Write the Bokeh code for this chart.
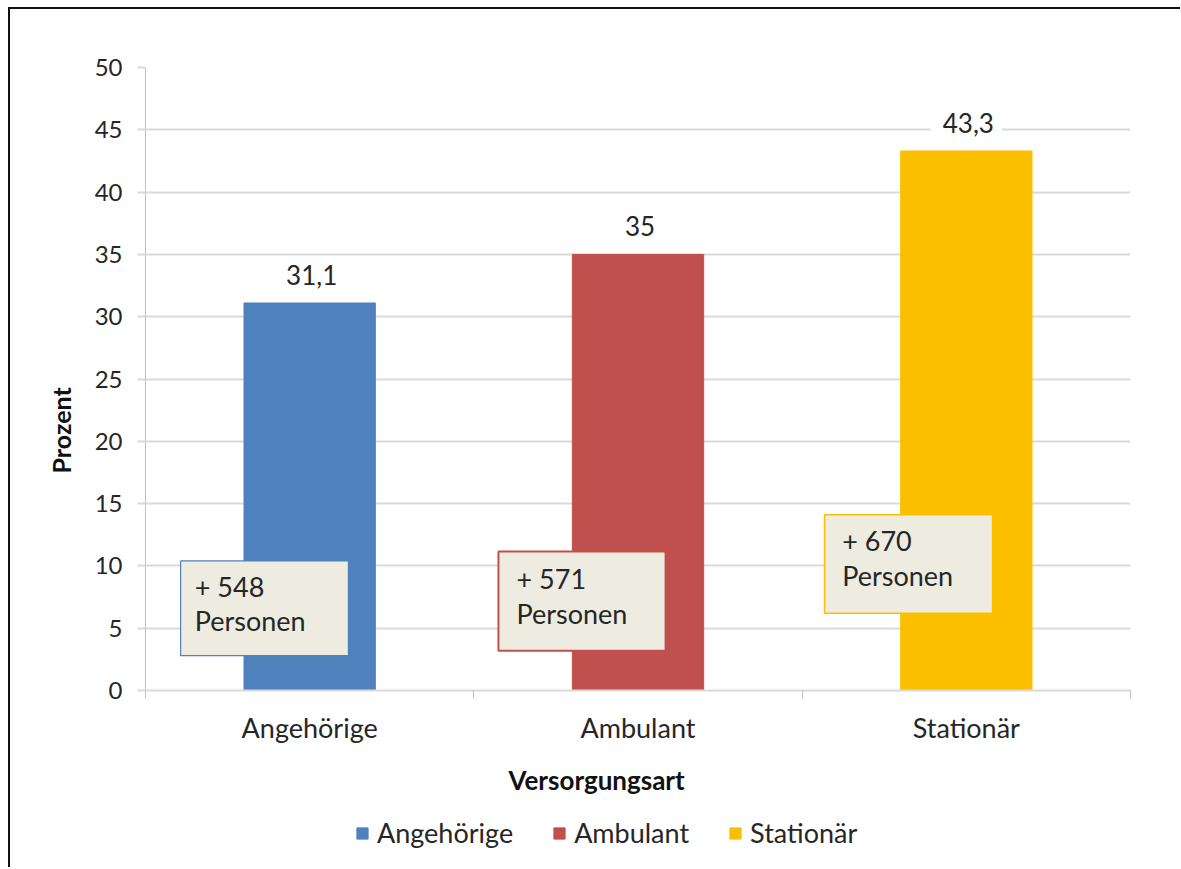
from bokeh.plotting import figure
from bokeh.layouts import column
from bokeh.models import ColumnDataSource, FixedTicker, Range1d, Legend, LegendItem, Title
from bokeh.embed import file_html
from bokeh.resources import INLINE
from bokeh.core.properties import value

# ---------------- data ----------------
categories = ["Angehörige", "Ambulant", "Stationär"]
prozent = [31.1, 35.0, 43.3]
personen = [548, 571, 670]
colors = ["#4f81bd", "#c0504d", "#fbbf00"]
y_ticks = [0, 5, 10, 15, 20, 25, 30, 35, 40, 45, 50]

# ---------------- layout / style constants ----------------
FONT = "Lato"
TXT = "#262626"
GRID = "#d9d9d9"
BOX_FILL = "#eeece1"
# callout boxes (data units: x in category slots, y in percent)
BOX_LEFT = [0.107, 1.075, 2.068]
BOX_RIGHT = [0.618, 1.584, 2.580]
BOX_BOTTOM = [2.8, 3.2, 6.2]
BOX_TOP = [10.4, 11.15, 14.1]
BOX_LW = [1.2, 2, 1.5]
TXT_X = [0.150, 1.130, 2.122]
TXT_Y = [9.70, 10.32, 13.34]

xs = [i + 0.5 for i in range(len(categories))]
value_text = [f"{v:g}".replace(".", ",") for v in prozent]

src = ColumnDataSource(dict(x=xs, top=prozent, color=colors, cat=categories, lab=value_text))

p = figure(width=1170, height=803,
           x_range=Range1d(0, len(categories)), y_range=Range1d(0, 50),
           output_backend="svg", toolbar_location=None,
           min_border_left=135, min_border_right=50, min_border_top=58, min_border_bottom=122)
p.outline_line_color = None
p.background_fill_color = "white"
p.border_fill_color = "white"

# grid
p.xgrid.visible = False
p.ygrid.grid_line_color = GRID
p.ygrid.grid_line_width = 2
p.ygrid.ticker = FixedTicker(ticks=y_ticks)

# y axis
p.yaxis.ticker = FixedTicker(ticks=y_ticks)
p.yaxis.axis_line_color = "#bfbfbf"
p.yaxis.axis_line_width = 1
p.yaxis.major_tick_out = 8
p.yaxis.major_tick_in = 0
p.yaxis.major_tick_line_color = GRID
p.yaxis.major_tick_line_width = 2
p.yaxis.minor_tick_out = 0
p.yaxis.minor_tick_in = 0
p.yaxis.major_label_standoff = 15
p.yaxis.major_label_text_font = FONT
p.yaxis.major_label_text_font_size = "24px"
p.yaxis.major_label_text_color = TXT

# x axis
p.xaxis.ticker = FixedTicker(ticks=xs, minor_ticks=list(range(len(categories) + 1)))
p.xaxis.major_label_overrides = {x: c for x, c in zip(xs, categories)}
p.xaxis.axis_line_color = GRID
p.xaxis.axis_line_width = 2
p.xaxis.major_tick_out = 0
p.xaxis.major_tick_in = 0
p.xaxis.minor_tick_out = 8
p.xaxis.minor_tick_in = 0
p.xaxis.minor_tick_line_color = "#bfbfbf"
p.xaxis.major_label_standoff = 12
p.xaxis.major_label_text_font = FONT
p.xaxis.major_label_text_font_size = "27px"
p.xaxis.major_label_text_color = TXT

# bars
bars = p.vbar(x="x", top="top", width=0.4, fill_color="color", line_color="color", source=src)

# value labels
p.text(x="x", y="top", text="lab", source=src, text_align="center", text_baseline="middle",
       y_offset=-26, text_font=value(FONT), text_font_size="26px", text_color=TXT,
       background_fill_color="white", padding=(12, 8, 4, 8))

# callout boxes
p.quad(left=BOX_LEFT, right=BOX_RIGHT, bottom=BOX_BOTTOM, top=BOX_TOP,
       fill_color=BOX_FILL, line_color=colors, line_width=BOX_LW)
p.text(x=TXT_X, y=TXT_Y, text=[f"+ {n}\nPersonen" for n in personen],
       text_align="left", text_baseline="top", text_font=value(FONT),
       text_font_size="27px", text_color=TXT, text_line_height=1.05)

# axis titles
p.add_layout(Title(text="Prozent", align="left", offset=217, standoff=32,
                   text_font=FONT, text_font_style="bold", text_font_size="25px",
                   text_color="#111"), "left")
p.add_layout(Title(text="Versorgungsart", align="left", offset=363, standoff=31,
                   text_font=FONT, text_font_style="bold", text_font_size="26px",
                   text_color="#111"), "below")

# legend strip below the chart (its bars lie far outside the strip's visible range)
lg = figure(width=1170, height=55, x_range=Range1d(100, 101), y_range=Range1d(100, 101),
            output_backend="svg", toolbar_location=None,
            x_axis_type=None, y_axis_type=None, min_border=0)
lg.outline_line_color = None
lg.background_fill_color = "white"
lg.border_fill_color = "white"
lg_bars = lg.vbar(x="x", top="top", width=0.4, fill_color="color", line_color="color", source=src)
items = [LegendItem(label=c, renderers=[lg_bars], index=i) for i, c in enumerate(categories)]
legend = Legend(items=items, orientation="horizontal", location=(210, 18),
                padding=0, margin=0, spacing=39, label_standoff=8,
                glyph_width=14, glyph_height=14,
                border_line_alpha=0, background_fill_alpha=0,
                label_text_font=FONT, label_text_font_size="27px", label_text_color=TXT)
lg.add_layout(legend, "center")

layout = column(p, lg, spacing=0,
                styles={"border-left": "2px solid #111", "border-top": "2px solid #111",
                        "margin-left": "8px", "margin-top": "7px"})

open("out.html", "w").write(file_html(layout, INLINE))
